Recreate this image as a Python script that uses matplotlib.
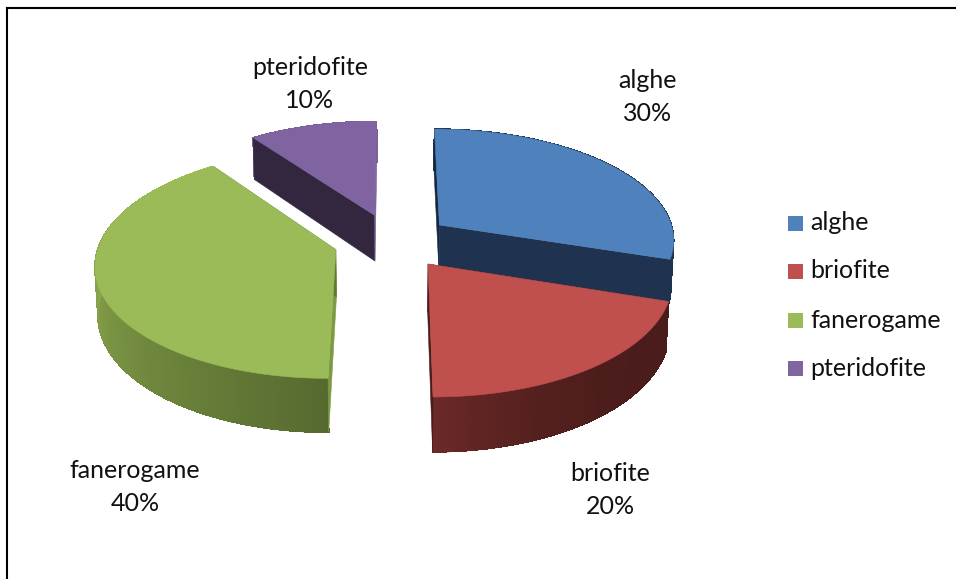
"""
3D exploded pie chart: alghe / briofite / fanerogame / pteridofite
"""

import numpy as np
import matplotlib.pyplot as plt
from matplotlib.collections import LineCollection, PolyCollection
from matplotlib.colors import to_rgb
from matplotlib.patches import Polygon, Rectangle

plt.rcParams["font.family"] = ["Lato", "DejaVu Sans"]

# =========================
#   DATA
# =========================

categories = ["alghe", "briofite", "fanerogame", "pteridofite"]
shares = [30, 20, 40, 10]

top_colors = ["#4F81BD", "#C0504D", "#9BBB59", "#8064A2"]
start_cut_colors = ["#16283F", "#4A1C1B", "#7D9A42", "#32273F"]
end_cut_colors = ["#1F3350", "#4A1C1B", "#5F7A35", "#7A6299"]
rim_start_colors = ["#1F3350", "#4A1C1B", "#566A2F", "#7A6299"]
rim_end_colors = ["#1F3350", "#6B2A28", "#A8C95E", "#7A6299"]
rim_curve = [1, 3, 1, 1]

# order the slices are painted in, back to front
draw_order = [3, 0, 2, 1]

# label anchor points, pixels
label_xy = [(648, 97), (610, 490), (135, 487), (310, 84)]
legend_y = [223, 271, 320, 368]

# projection settings
center_x, center_y = 392.5, 241
radius_x, radius_y = 236, 111
explode = 0.25
perspective = 0.12
depth = 47


def project(x, y):
    s = 1 / (1 + perspective * y)
    return center_x + radius_x * x * s, center_y - radius_y * y * s, s


def top_point(x, y):
    px, py, _ = project(x, y)
    return np.column_stack([px, py])


def bottom_point(x, y):
    px, py, s = project(x, y)
    px = center_x + (px - center_x) * 0.99
    return np.column_stack([px, py + depth * s])


def mix(c1, c2, n, power=1):
    c1, c2 = np.array(to_rgb(c1)), np.array(to_rgb(c2))
    w = np.linspace(0, 1, n)[:, None] ** power
    return c1 * (1 - w) + c2 * w


def draw_slice(ax, i, start, end):
    mid = (start + end) / 2
    ox = explode * np.sin(mid)
    oy = explode * np.cos(mid)

    t = np.linspace(start, end, 401)
    rim_x = ox + np.sin(t)
    rim_y = oy + np.cos(t)
    rim_top = top_point(rim_x, rim_y)
    rim_bot = bottom_point(rim_x, rim_y)
    apex_top = top_point(np.array([ox]), np.array([oy]))
    apex_bot = bottom_point(np.array([ox]), np.array([oy]))

    # curved side, shaded strip by strip (no antialiasing, it leaves stripes)
    strips = [np.vstack([rim_top[k], rim_top[k + 1], rim_bot[k + 1], rim_bot[k]])
              for k in range(len(t) - 1)]
    shades = mix(rim_start_colors[i], rim_end_colors[i], len(strips), rim_curve[i])
    ax.add_collection(PolyCollection(strips, facecolors=shades, edgecolors=shades,
                                     linewidths=0.5, antialiaseds=False, zorder=1))
    # smooth the lower edge of the side
    lower = [rim_bot[k:k + 2] for k in range(len(t) - 1)]
    ax.add_collection(LineCollection(lower, colors=shades, linewidths=0.8, zorder=1))

    # flat cut faces
    ax.add_patch(Polygon(np.vstack([apex_top, rim_top[:1], rim_bot[:1], apex_bot]),
                         facecolor=start_cut_colors[i], edgecolor=start_cut_colors[i], lw=0.4, zorder=1))
    ax.add_patch(Polygon(np.vstack([apex_top, rim_top[-1:], rim_bot[-1:], apex_bot]),
                         facecolor=end_cut_colors[i], edgecolor=end_cut_colors[i], lw=0.4, zorder=1))

    # top face
    ax.add_patch(Polygon(np.vstack([apex_top, rim_top]),
                         facecolor=top_colors[i], edgecolor=top_colors[i], lw=0.4, zorder=1))


fig = plt.figure(figsize=(9.56, 5.79), dpi=100)
ax = fig.add_axes([0, 0, 1, 1])
ax.set_xlim(0, 956)
ax.set_ylim(579, 0)
ax.axis("off")

# chart frame: left and top edges only are in view
ax.plot([7, 7], [579, 8], color="black", lw=1.5, solid_capstyle="projecting")
ax.plot([7, 956], [8, 8], color="black", lw=1.5, solid_capstyle="projecting")

edges = np.cumsum([0] + shares) / sum(shares) * 2 * np.pi
for i in draw_order:
    draw_slice(ax, i, edges[i], edges[i + 1])

for i, name in enumerate(categories):
    x, y = label_xy[i]
    ax.text(x, y, f"{name}\n{shares[i]}%", ha="center", va="center",
            fontsize=18, color="#111111", linespacing=1.55)

    ax.add_patch(Rectangle((788, legend_y[i] - 7.5), 15, 15, facecolor=top_colors[i], edgecolor="none"))
    ax.text(810, legend_y[i], name, ha="left", va="center", fontsize=18, color="#111111")

fig.savefig("out.png", dpi=100)
plt.close(fig)
